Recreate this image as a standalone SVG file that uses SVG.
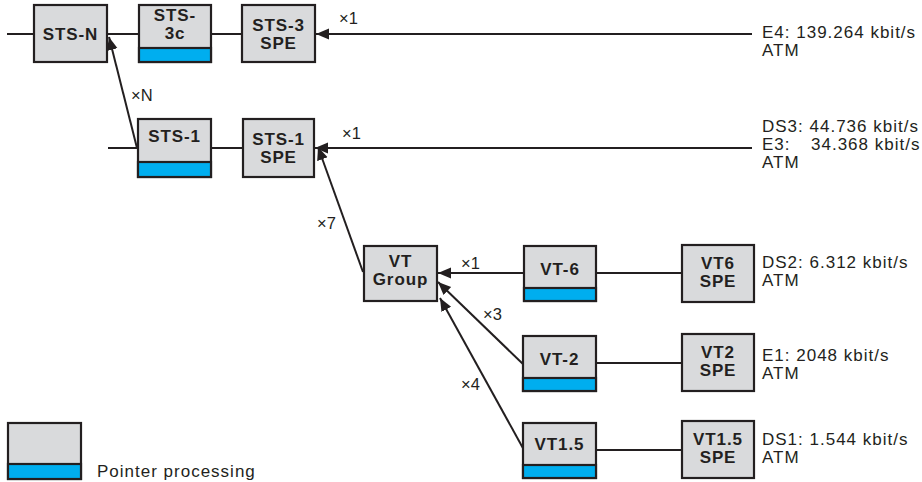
<svg xmlns="http://www.w3.org/2000/svg" width="922" height="482" viewBox="0 0 922 482">
<defs>
<marker id="ah" markerUnits="userSpaceOnUse" markerWidth="14" markerHeight="12" refX="13" refY="5.5" orient="auto">
<path d="M0,0 L13,5.5 L0,11 z" fill="#231f20"/>
</marker>
<style>
.box{fill:#d9dadc;stroke:#231f20;stroke-width:2.2}
.ptr{fill:#00aeef;stroke:#231f20;stroke-width:2.2}
.lbl{font-family:"Liberation Sans",Arial,sans-serif;font-weight:bold;font-size:17px;letter-spacing:0.9px;fill:#231f20;text-anchor:middle}
.txt{font-family:"Liberation Sans",Arial,sans-serif;font-size:17px;letter-spacing:1px;fill:#231f20}
.mul{font-family:"Liberation Sans",Arial,sans-serif;font-size:16.5px;fill:#231f20}
.ln{stroke:#231f20;stroke-width:2;fill:none}
.ar{stroke:#231f20;stroke-width:2;fill:none;marker-end:url(#ah)}
</style>
</defs>
<rect width="922" height="482" fill="#ffffff"/>

<g id="connectors">
<line class="ln" x1="7" y1="34" x2="34" y2="34"/>
<line class="ln" x1="107" y1="34" x2="139" y2="34"/>
<line class="ln" x1="211" y1="34" x2="242" y2="34"/>
<line class="ar" x1="752" y1="34" x2="316" y2="34"/>
<line class="ar" x1="137" y1="148" x2="109" y2="37"/>
<line class="ln" x1="108" y1="148" x2="138" y2="148"/>
<line class="ln" x1="211" y1="148" x2="243" y2="148"/>
<line class="ar" x1="752" y1="148" x2="315" y2="148"/>
<line class="ar" x1="363" y1="272" x2="318" y2="147"/>
<line class="ar" x1="524" y1="273" x2="438" y2="273"/>
<line class="ln" x1="596" y1="273" x2="682" y2="273"/>
<line class="ar" x1="524" y1="365" x2="438" y2="282"/>
<line class="ln" x1="596" y1="363" x2="682" y2="363"/>
<line class="ar" x1="524" y1="450" x2="440" y2="298"/>
<line class="ln" x1="596" y1="450" x2="682" y2="450"/>
<text class="mul" x="339" y="24">×1</text>
<text class="mul" x="131" y="101">×N</text>
<text class="mul" x="342" y="139">×1</text>
<text class="mul" x="317" y="229">×7</text>
<text class="mul" x="461" y="269">×1</text>
<text class="mul" x="483" y="320">×3</text>
<text class="mul" x="461" y="390">×4</text>
</g>

<g id="sts-n">
<rect class="box" x="34" y="5" width="73" height="57"/>
<text class="lbl" x="70.5" y="40">STS-N</text>
</g>
<g id="sts-3c">
<rect class="box" x="139" y="5" width="72" height="57"/>
<rect class="ptr" x="139" y="48" width="72" height="14"/>
<text class="lbl" x="175" y="21">STS-</text>
<text class="lbl" x="175" y="39">3c</text>
</g>
<g id="sts-3-spe">
<rect class="box" x="242" y="5" width="73" height="57"/>
<text class="lbl" x="278.5" y="31">STS-3</text>
<text class="lbl" x="278.5" y="49">SPE</text>
</g>
<g id="sts-1">
<rect class="box" x="138" y="119" width="73" height="58"/>
<rect class="ptr" x="138" y="162" width="73" height="15"/>
<text class="lbl" x="174.5" y="142">STS-1</text>
</g>
<g id="sts-1-spe">
<rect class="box" x="243" y="119" width="71" height="58"/>
<text class="lbl" x="278.5" y="145">STS-1</text>
<text class="lbl" x="278.5" y="163">SPE</text>
</g>
<g id="vt-group">
<rect class="box" x="364" y="246" width="73" height="55"/>
<text class="lbl" x="400.5" y="267">VT</text>
<text class="lbl" x="400.5" y="285">Group</text>
</g>
<g id="vt-6">
<rect class="box" x="524" y="246" width="72" height="55"/>
<rect class="ptr" x="524" y="288" width="72" height="13"/>
<text class="lbl" x="560" y="275">VT-6</text>
</g>
<g id="vt-2">
<rect class="box" x="523" y="336" width="73" height="55"/>
<rect class="ptr" x="523" y="378" width="73" height="13"/>
<text class="lbl" x="559.5" y="365">VT-2</text>
</g>
<g id="vt1-5">
<rect class="box" x="523" y="423" width="73" height="55"/>
<rect class="ptr" x="523" y="465" width="73" height="13"/>
<text class="lbl" x="559.5" y="450">VT1.5</text>
</g>
<g id="vt6-spe">
<rect class="box" x="682" y="245" width="72" height="57"/>
<text class="lbl" x="718" y="269">VT6</text>
<text class="lbl" x="718" y="287">SPE</text>
</g>
<g id="vt2-spe">
<rect class="box" x="682" y="334" width="72" height="57"/>
<text class="lbl" x="718" y="358">VT2</text>
<text class="lbl" x="718" y="376">SPE</text>
</g>
<g id="vt1-5-spe">
<rect class="box" x="682" y="421" width="72" height="57"/>
<text class="lbl" x="718" y="445">VT1.5</text>
<text class="lbl" x="718" y="463">SPE</text>
</g>

<g id="signals">
<text class="txt" x="762" y="38">E4: 139.264 kbit/s</text>
<text class="txt" x="762" y="56">ATM</text>
<text class="txt" x="762" y="132">DS3: 44.736 kbit/s</text>
<text class="txt" x="762" y="150">E3:<tspan x="811">34.368 kbit/s</tspan></text>
<text class="txt" x="762" y="168">ATM</text>
<text class="txt" x="762" y="268">DS2: 6.312 kbit/s</text>
<text class="txt" x="762" y="286">ATM</text>
<text class="txt" x="762" y="361">E1: 2048 kbit/s</text>
<text class="txt" x="762" y="379">ATM</text>
<text class="txt" x="762" y="445">DS1: 1.544 kbit/s</text>
<text class="txt" x="762" y="463">ATM</text>
</g>

<g id="legend">
<rect class="box" x="8" y="423" width="73" height="56"/>
<rect class="ptr" x="8" y="464" width="73" height="15"/>
<text class="txt" x="97" y="477">Pointer processing</text>
</g>
</svg>
